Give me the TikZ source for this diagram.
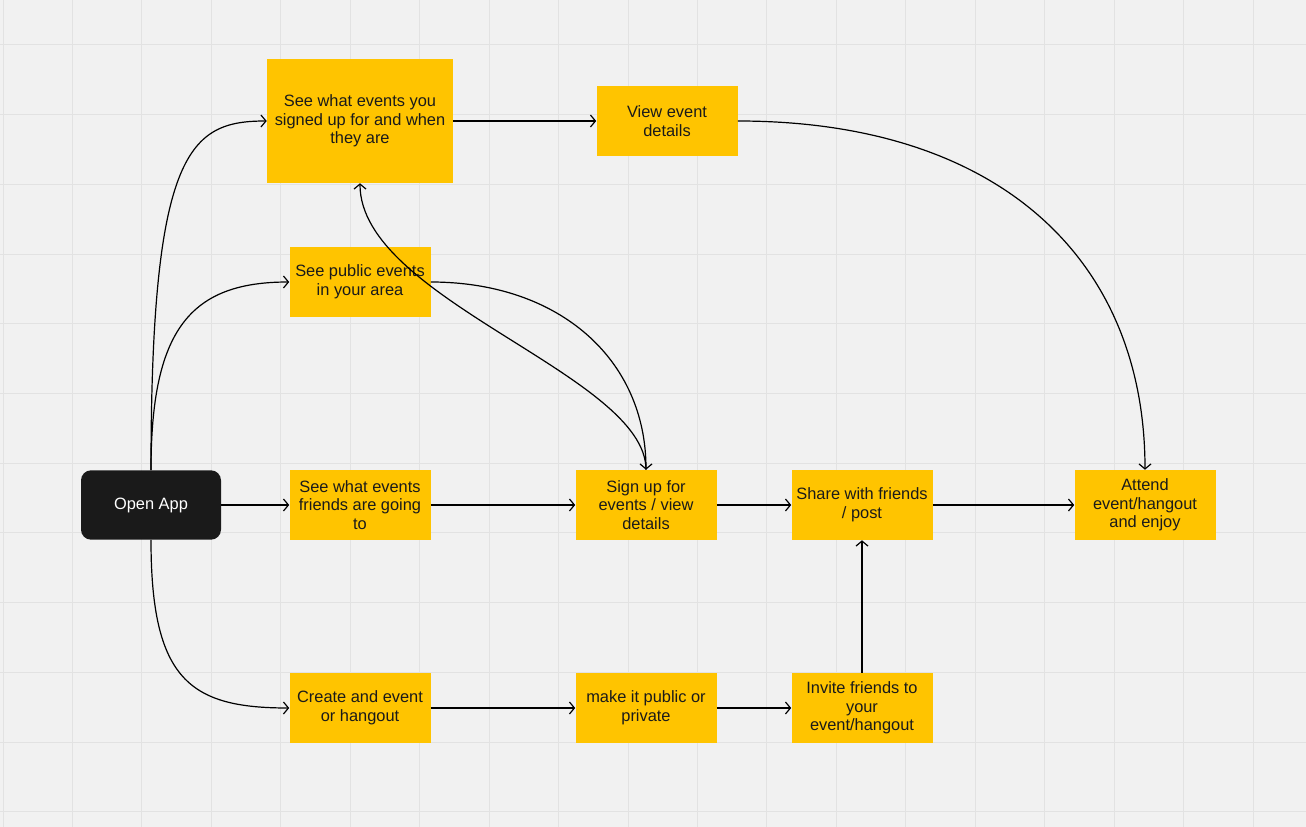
\documentclass[tikz,border=0pt]{standalone}
\usepackage{fontspec}
\setmainfont{Liberation Sans}
\usetikzlibrary{arrows.meta}
\definecolor{bg}{HTML}{F1F1F1}
\definecolor{gridc}{HTML}{E2E2E2}
\definecolor{ybox}{HTML}{FFC400}
\definecolor{dark}{HTML}{1A1A1A}
\begin{document}
\begin{tikzpicture}[x=0.75pt,y=-0.75pt,
  box/.style={fill=ybox, text=dark, align=center, inner sep=0pt,
    minimum width=105.75pt, minimum height=52.5pt,
    font=\fontsize{12.3}{14}\selectfont},
  startbox/.style={fill=dark, text=white, align=center, inner sep=0pt,
    rounded corners=7.5pt, minimum width=105pt, minimum height=52pt,
    font=\fontsize{12.3}{14}\selectfont},
  conn/.style={draw=black, line width=0.9pt, -{Straight Barb[length=3.75pt,width=9pt]}},
  gridline/.style={draw=gridc, line width=0.75pt}]
% background and grid
\fill[bg] (0,0) rectangle (1306,827);
\begin{scope}
\clip (0,0) rectangle (1306,827);
\foreach \i in {0,...,18} { \draw[gridline] ({3+69.45*\i},0) -- ({3+69.45*\i},827); }
\foreach \j in {0,...,11} { \draw[gridline] (0,{45+69.7*\j}) -- (1306,{45+69.7*\j}); }
\end{scope}
% nodes
\node[startbox] (open) at (151,505) {Open App};
\node[box, minimum width=139.5pt, minimum height=93pt] (mine) at (360,121) {See what events you\\signed up for and when\\they are};
\node[box] (view) at (667,121) {View event\\details};
\node[box] (public) at (360,282) {See public events\\in your area};
\node[box] (friends) at (360,505) {See what events\\friends are going\\to};
\node[box] (signup) at (646,505) {Sign up for\\events / view\\details};
\node[box] (share) at (862,505) {Share with friends\\/ post};
\node[box] (attend) at (1145,505) {Attend\\event/hangout\\and enjoy};
\node[box] (create) at (360,708) {Create and event\\or hangout};
\node[box] (pubpriv) at (646,708) {make it public or\\private};
\node[box] (invite) at (862,708) {Invite friends to\\your\\event/hangout};
% connectors
\draw[conn] (open.north) .. controls (151,150) and (190,121) .. (mine.west);
\draw[conn] (open.north) .. controls (151,330) and (190,282) .. (public.west);
\draw[conn] (open) -- (friends);
\draw[conn] (open.south) .. controls (151,680) and (190,708) .. (create.west);
\draw[conn] (mine.east) -- (view.west);
\draw[conn] (view.east) .. controls (1000,121) and (1145,260) .. (attend.north);
\draw[conn] (public.east) .. controls (560,282) and (646,360) .. (signup.north);
\draw[conn] (signup.north) .. controls (646,375) and (360,300) .. (mine.south);
\draw[conn] (friends) -- (signup);
\draw[conn] (signup) -- (share);
\draw[conn] (share) -- (attend);
\draw[conn] (create) -- (pubpriv);
\draw[conn] (pubpriv) -- (invite);
\draw[conn] (invite) -- (share);
\end{tikzpicture}
\end{document}
